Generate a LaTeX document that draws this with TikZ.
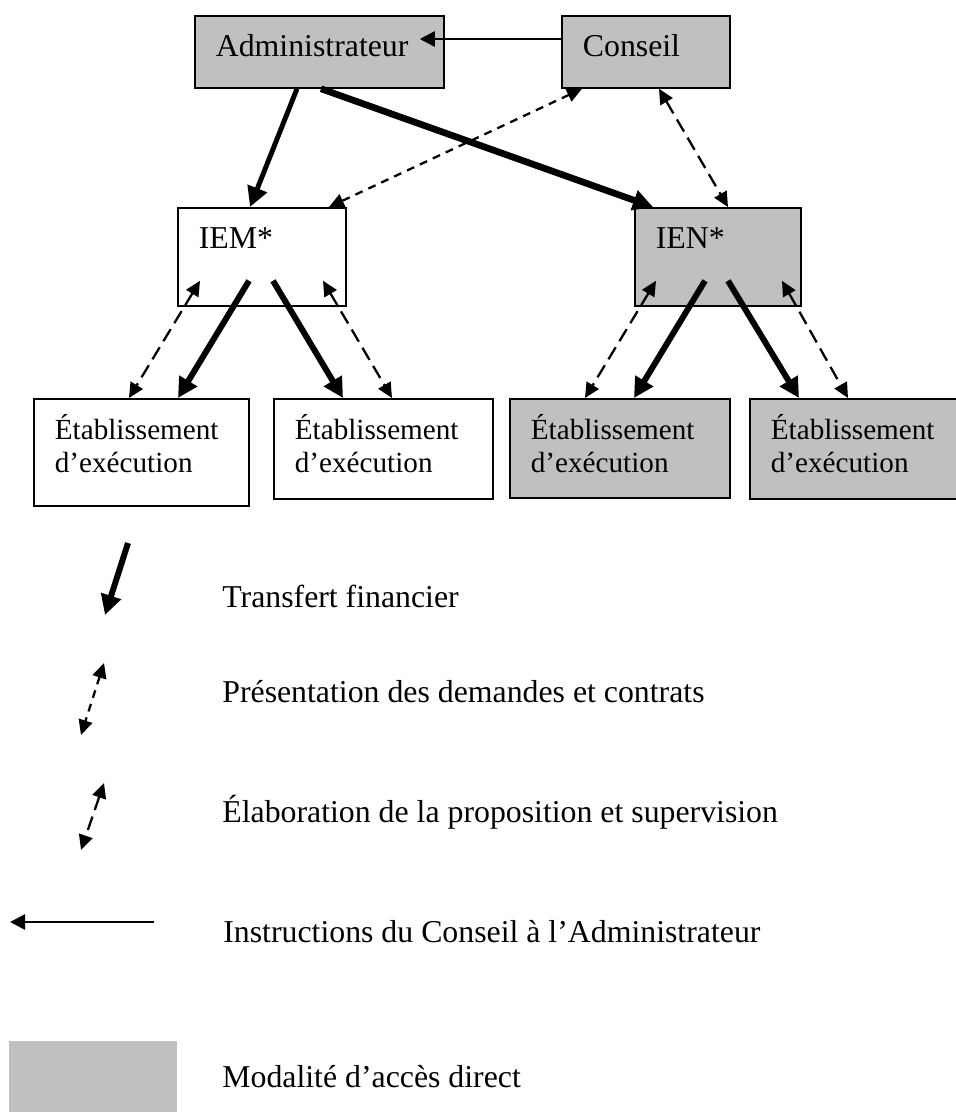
\documentclass[tikz,border=0pt]{standalone}
\usepackage{fontspec}
\setmainfont{Liberation Serif}
\usepackage{tikz}
\usetikzlibrary{arrows.meta,calc}
\definecolor{boxgray}{HTML}{C0C0C0}
\tikzset{
    every node/.style={font=\fontsize{18.1pt}{18.8pt}\selectfont},
    box/.style 2 args={draw, line width=1pt, anchor=north west, align=left,
        inner xsep=0.42cm, inner ysep=0.4cm, text height=0.42cm,
        text width={#1-0.84cm}, text depth={#2-1.22cm}}
}
\tikzset{
    etab/.style={font={\fontsize{16.6pt}{18.8pt}\selectfont\hyphenpenalty 10000 }},
    legende/.style={anchor=base west, inner sep=0pt}
}
\tikzset{
    fin/.style={line width=3.4pt, -{Triangle[length=0.40cm, width=0.40cm]}},
    demande/.style={line width=1.3pt, dash pattern=on 4.5pt off 3.6pt,
        {Triangle[length=0.30cm, width=0.28cm]}-{Triangle[length=0.30cm, width=0.28cm]}},
    suivi/.style={line width=1.3pt, dash pattern=on 8pt off 4pt,
        {Triangle[length=0.30cm, width=0.28cm]}-{Triangle[length=0.30cm, width=0.28cm]}},
    instr/.style={line width=1.4pt, -{Triangle[length=0.30cm, width=0.30cm]}}
}

\begin{document}
\begin{tikzpicture}
  \useasboundingbox (0cm, 0cm) rectangle (19.12cm, -22.24cm);

  \node (adm) [box={4.98cm}{1.44cm}, fill=boxgray] at (3.88cm, -0.30cm) {Administrateur};
  \node (cons) [box={3.36cm}{1.44cm}, fill=boxgray] at (11.22cm, -0.30cm) {Conseil};

  \node (iem) [box={3.36cm}{1.96cm}] at (3.54cm, -4.14cm) {IEM*};
  \node (ien) [box={3.32cm}{1.96cm}, fill=boxgray] at (12.68cm, -4.14cm) {IEN*};

  \node (e1) [box={4.30cm}{2.14cm}, etab] at (0.66cm, -7.96cm) {Établissement\\d’exécution};
  \node (e2) [box={4.38cm}{2.00cm}, etab] at (5.46cm, -7.96cm) {Établissement\\d’exécution};
  \node (e3) [box={4.40cm}{1.98cm}, etab, fill=boxgray] at (10.18cm, -7.96cm) {Établissement\\d’exécution};
  \node (e4) [box={4.26cm}{2.00cm}, etab, fill=boxgray] at (14.98cm, -7.96cm) {Établissement\\d’exécution};

  \coordinate (cons-g) at ($(cons.north west)+(0,-0.48)$);
  \coordinate (adm-d) at ($(adm.north east)+(-0.50,-0.48)$);
  \coordinate (adm-a) at ($(adm.south west)+(2.06,0)$);
  \coordinate (adm-b) at ($(adm.south west)+(2.54,0)$);
  \coordinate (cons-a) at ($(cons.south west)+(0.42,0)$);
  \coordinate (cons-b) at ($(cons.south west)+(1.96,0)$);
  \coordinate (iem-h) at ($(iem.north west)+(1.46,0)$);
  \coordinate (iem-c) at ($(iem.north west)+(3.04,0)$);
  \coordinate (ien-h) at ($(ien.north west)+(0.38,0)$);
  \coordinate (ien-c) at ($(ien.north west)+(1.88,0)$);

  \coordinate (iem-1) at ($(iem.south west)+(0.46,0.52)$);
  \coordinate (iem-2) at ($(iem.south west)+(1.44,0.52)$);
  \coordinate (iem-3) at ($(iem.south west)+(1.92,0.52)$);
  \coordinate (iem-4) at ($(iem.south west)+(2.92,0.52)$);
  \coordinate (ien-1) at ($(ien.south west)+(0.44,0.52)$);
  \coordinate (ien-2) at ($(ien.south west)+(1.42,0.52)$);
  \coordinate (ien-3) at ($(ien.south west)+(1.88,0.52)$);
  \coordinate (ien-4) at ($(ien.south west)+(2.96,0.52)$);

  \coordinate (e1-s) at ($(e1.north west)+(1.92,0)$);
  \coordinate (e1-f) at ($(e1.north west)+(2.90,0)$);
  \coordinate (e2-f) at ($(e2.north west)+(1.40,0)$);
  \coordinate (e2-s) at ($(e2.north west)+(2.38,0)$);
  \coordinate (e3-s) at ($(e3.north west)+(1.52,0)$);
  \coordinate (e3-f) at ($(e3.north west)+(2.50,0)$);
  \coordinate (e4-f) at ($(e4.north west)+(1.00,0)$);
  \coordinate (e4-s) at ($(e4.north west)+(1.98,0)$);

  \draw (cons-g) edge[instr] (adm-d);
  \draw (adm-a) edge[fin, line width=2.8pt] (iem-h);
  \draw (adm-b) edge[fin, line width=3.8pt] (ien-h);
  \draw (cons-a) edge[demande] (iem-c); \draw (cons-b) edge[suivi] (ien-c);

  \draw (iem-2) edge[fin] (e1-f); \draw (iem-3) edge[fin] (e2-f);
  \draw (ien-2) edge[fin] (e3-f); \draw (ien-3) edge[fin] (e4-f);
  \draw (iem-1) edge[suivi] (e1-s); \draw (iem-4) edge[suivi] (e2-s);
  \draw (ien-1) edge[suivi] (e3-s); \draw (ien-4) edge[suivi] (e4-s);

  % legende
  \coordinate (l1a) at (2.56cm, -10.86cm); \coordinate (l1b) at (2.10cm, -12.30cm);
  \coordinate (l2a) at (2.08cm, -13.26cm); \coordinate (l2b) at (1.62cm, -14.70cm);
  \coordinate (l3a) at (2.08cm, -15.66cm); \coordinate (l3b) at (1.62cm, -17.00cm);
  \coordinate (l4a) at (3.08cm, -18.44cm); \coordinate (l4b) at (0.20cm, -18.44cm);

  \draw (l1a) edge[fin] (l1b); \draw (l2a) edge[demande] (l2b);
  \draw (l3a) edge[suivi] (l3b); \draw (l4a) edge[instr] (l4b);

  \node (acces) [fill=boxgray, anchor=north west, inner sep=0pt,
    minimum width=3.36cm, minimum height=1.6cm] at (0.18cm, -20.82cm) {};

  \node (t1) [legende] at (4.44cm, -12.14cm) {Transfert financier};
  \node (t2) [legende] at (4.44cm, -14.04cm) {Présentation des demandes et contrats};
  \node (t3) [legende] at (4.44cm, -16.44cm) {Élaboration de la proposition et supervision};
  \node (t4) [legende] at (4.46cm, -18.84cm) {Instructions du Conseil à l’Administrateur};
  \node (t5) [legende] at (4.44cm, -21.74cm) {Modalité d’accès direct};
\end{tikzpicture}
\end{document}
